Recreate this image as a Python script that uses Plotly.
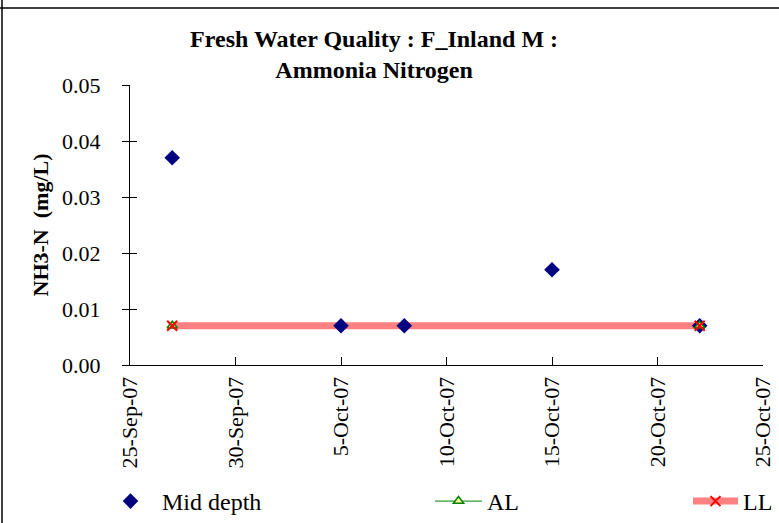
import plotly.graph_objects as go

# Data
mid_dates = ["2007-09-27", "2007-10-05", "2007-10-08", "2007-10-15", "2007-10-22"]
mid_values = [0.037, 0.007, 0.007, 0.017, 0.007]
al_dates = ["2007-09-27", "2007-10-22"]
al_values = [0.007, 0.007]
ll_dates = ["2007-09-27", "2007-10-22"]
ll_values = [0.007, 0.007]
x_tickvals = ["2007-09-25", "2007-09-30", "2007-10-05", "2007-10-10", "2007-10-15", "2007-10-20", "2007-10-25"]
x_ticktext = ["25-Sep-07", "30-Sep-07", "5-Oct-07", "10-Oct-07", "15-Oct-07", "20-Oct-07", "25-Oct-07"]
y_tickvals = [0.00, 0.01, 0.02, 0.03, 0.04, 0.05]

FONT = "Liberation Serif"

mid_marker = dict(symbol="diamond", size=12, color="#000080")
al_line = dict(color="#008000", width=1)
al_marker = dict(symbol="triangle-up", size=9, color="#FFFF99", line=dict(color="#008000", width=1.5))
ll_line = dict(color="#FF8080", width=7)
ll_marker = dict(symbol="x-thin", size=10, line=dict(color="#FF0000", width=2), color="#FF0000")

fig = go.Figure()
# lines first (as in the original chart), then markers on top
fig.add_trace(go.Scatter(x=al_dates, y=al_values, mode="lines", line=al_line,
                         showlegend=False, hoverinfo="skip"))
fig.add_trace(go.Scatter(x=ll_dates, y=ll_values, mode="lines", line=ll_line,
                         showlegend=False, hoverinfo="skip"))
fig.add_trace(go.Scatter(x=mid_dates, y=mid_values, name="Mid depth", mode="markers",
                         marker=mid_marker, legend="legend"))
fig.add_trace(go.Scatter(x=al_dates, y=al_values, name="AL", mode="markers",
                         marker=al_marker, showlegend=False))
fig.add_trace(go.Scatter(x=ll_dates, y=ll_values, name="LL", mode="markers",
                         marker=ll_marker, showlegend=False))
# legend entries
fig.add_trace(go.Scatter(x=[None], y=[None], name="AL", mode="lines+markers",
                         line=al_line, marker=al_marker, legend="legend2"))
fig.add_trace(go.Scatter(x=[None], y=[None], name="LL", mode="lines+markers",
                         line=ll_line, marker=ll_marker, legend="legend3"))

W, H = 779, 523
L, R, T, B = 130, 16, 85, 158
pw, ph = W - L - R, H - T - B

def px(x):
    return (x - L) / pw

def py(y):
    return (H - B - y) / ph

axis_common = dict(showgrid=False, zeroline=False, showline=True, linecolor="black",
                   linewidth=1, tickcolor="black", mirror=False, automargin=False)

LEG_TOP = 479

fig.update_layout(
    width=W, height=H,
    margin=dict(l=L, r=R, t=T, b=B, autoexpand=False),
    paper_bgcolor="white", plot_bgcolor="white",
    font=dict(family=FONT, size=22, color="black"),
    title=dict(text="<b>Fresh Water Quality : F_Inland M :<br>Ammonia Nitrogen</b>",
               x=px(434), xanchor="center", y=1 - 47 / H, yanchor="middle",
               font=dict(family=FONT, size=24)),
    xaxis=dict(type="date", range=["2007-09-25", "2007-10-25"],
               tickvals=x_tickvals, ticktext=x_ticktext, tickangle=-90,
               ticks="inside", ticklen=8, ticklabelstandoff=2, **axis_common),
    yaxis=dict(range=[0, 0.05], tickvals=y_tickvals, tickformat=".2f",
               ticks="outside", ticklen=7, ticklabelstandoff=17,
               title=dict(text="<b>NH3-N&nbsp;&nbsp;(mg/L)</b>", font=dict(size=22), standoff=7),
               **axis_common),
    yaxis2=dict(range=[0, 0.05], overlaying="y", tickvals=y_tickvals, showticklabels=False,
                ticks="inside", ticklen=7, showgrid=False, zeroline=False, showline=False,
                tickcolor="black", automargin=False),
    legend=dict(x=px(99), y=py(LEG_TOP), xanchor="left", yanchor="top",
                bgcolor="rgba(0,0,0,0)", font=dict(size=24), itemwidth=53),
    legend2=dict(x=px(430), y=py(LEG_TOP), xanchor="left", yanchor="top",
                 bgcolor="rgba(0,0,0,0)", font=dict(size=24), itemwidth=47),
    legend3=dict(x=px(688), y=py(LEG_TOP), xanchor="left", yanchor="top",
                 bgcolor="rgba(0,0,0,0)", font=dict(size=24), itemwidth=45),
    showlegend=True,
)
fig.add_trace(go.Scatter(x=[None], y=[None], yaxis="y2", showlegend=False, hoverinfo="skip"))

fig.add_shape(type="line", xref="paper", yref="paper", x0=px(2), x1=px(2), y0=py(0), y1=py(523),
              line=dict(color="black", width=1.5))
fig.add_shape(type="line", xref="paper", yref="paper", x0=px(0), x1=px(779), y0=py(8), y1=py(8),
              line=dict(color="black", width=1.5))

fig.write_html("out.html", config={"displayModeBar": False},
               post_script="document.body.style.margin='0';document.body.style.padding='0';")
